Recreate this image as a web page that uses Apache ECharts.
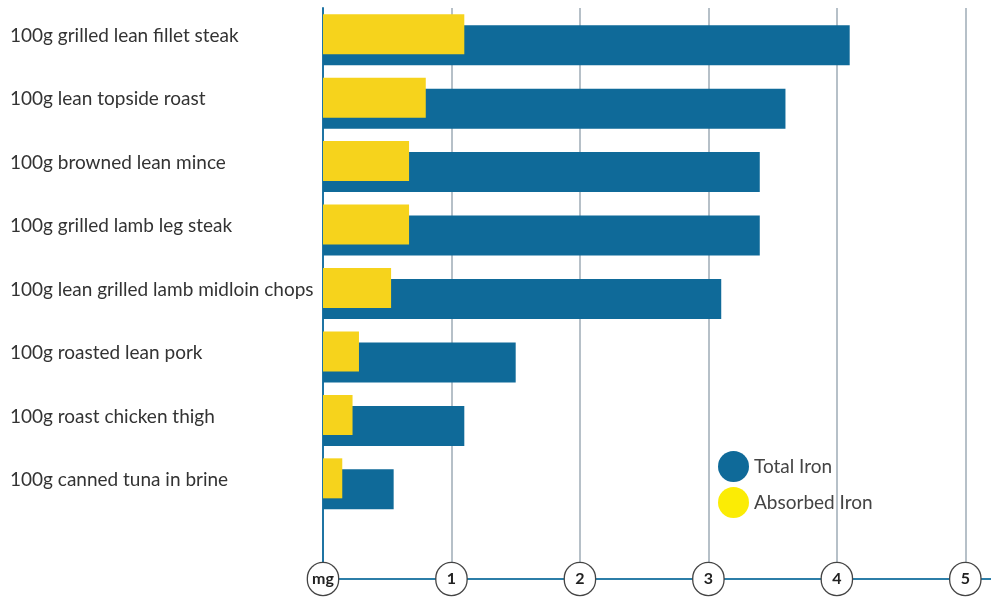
<!DOCTYPE html>
<html>
<head>
<meta charset="utf-8">
<script src="https://cdn.jsdelivr.net/npm/echarts@6/dist/echarts.min.js"></script>
<style>
  html, body { margin: 0; padding: 0; background: #ffffff; }
  #chart { width: 991px; height: 597px; }
</style>
</head>
<body>
<div id="chart"></div>
<script>
// Foods, listed top to bottom
const foods = [
  '100g grilled lean fillet steak',
  '100g lean topside roast',
  '100g browned lean mince',
  '100g grilled lamb leg steak',
  '100g lean grilled lamb midloin chops',
  '100g roasted lean pork',
  '100g roast chicken thigh',
  '100g canned tuna in brine'
];
// Iron content per portion, mg
const totalIron = [4.1, 3.6, 3.4, 3.4, 3.1, 1.5, 1.1, 0.55];
const absorbedIron = [1.1, 0.8, 0.67, 0.67, 0.53, 0.28, 0.23, 0.15];
// Scale tick labels
const tickLabels = ['mg', '1', '2', '3', '4', '5'];

const BLUE = '#0f6a99';
const YELLOW = '#f6d31c';

// Category axis runs bottom-up; an empty slot at the bottom leaves room above the scale
const cats = [''].concat(foods.slice().reverse());
const totalData = [null].concat(totalIron.slice().reverse());
const absorbedData = [null].concat(absorbedIron.slice().reverse());

const chart = echarts.init(document.getElementById('chart'));
chart.setOption({
  animation: false,
  backgroundColor: '#ffffff',
  textStyle: { fontFamily: 'Lato' },
  grid: { left: 323, right: 0, top: 8, bottom: 18, containLabel: false },
  legend: {
    orient: 'vertical',
    left: 713,
    top: 446,
    icon: 'circle',
    itemWidth: 31,
    itemHeight: 31,
    itemGap: 5,
    textStyle: { fontSize: 19, color: '#444444', fontFamily: 'Lato' },
    data: [
      { name: 'Total Iron', itemStyle: { color: BLUE } },
      { name: 'Absorbed Iron', itemStyle: { color: '#fbec05' } }
    ]
  },
  xAxis: {
    type: 'value',
    min: 0,
    max: 5.2,
    interval: 1,
    axisLine: { show: true, lineStyle: { color: '#2c7ea8', width: 2 } },
    axisTick: { show: false },
    splitLine: { show: true, showMaxLine: false, lineStyle: { color: '#9eabb6', width: 1.5 } },
    axisLabel: {
      showMaxLabel: false,
      margin: -16,
      formatter: function (v) { return tickLabels[Math.round(v)] || ''; },
      color: '#222222',
      fontSize: 16,
      fontWeight: 'bold',
      fontFamily: 'Lato',
      backgroundColor: '#ffffff',
      borderColor: '#444444',
      borderWidth: 1.3,
      borderRadius: 16,
      width: 18,
      height: 26,
      lineHeight: 26,
      align: 'center',
      padding: [3, 6, 3, 6]
    }
  },
  yAxis: {
    type: 'category',
    data: cats,
    axisLine: { show: true, lineStyle: { color: '#1f74a3', width: 2 } },
    axisTick: { show: false },
    splitLine: { show: false },
    axisLabel: {
      align: 'left',
      verticalAlign: 'bottom',
      lineHeight: 8,
      margin: 313,
      color: '#333333',
      fontSize: 19,
      fontFamily: 'Lato'
    }
  },
  series: [
    {
      name: 'Absorbed Iron',
      type: 'bar',
      data: absorbedData,
      barWidth: 40,
      barGap: '-72.5%',
      z: 3,
      itemStyle: { color: YELLOW }
    },
    {
      name: 'Total Iron',
      type: 'bar',
      data: totalData,
      barWidth: 40,
      z: 2,
      itemStyle: { color: BLUE }
    }
  ]
});
</script>
</body>
</html>
